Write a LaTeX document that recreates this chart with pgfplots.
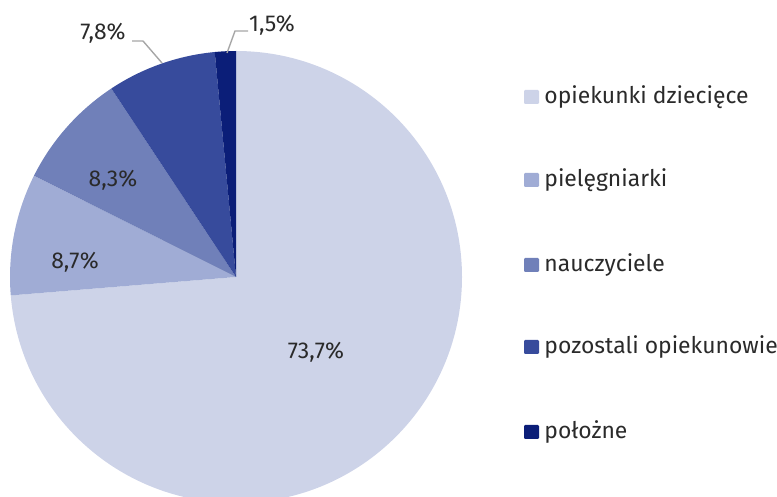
\documentclass[border=0pt]{standalone}
\usepackage{pgfplots}
\pgfplotsset{compat=1.18}
\usepackage{fontspec}
\setmainfont{Fira Sans}
\definecolor{cA}{HTML}{CDD3E8}
\definecolor{cB}{HTML}{A0ACD5}
\definecolor{cC}{HTML}{7080B9}
\definecolor{cD}{HTML}{374B9C}
\definecolor{cE}{HTML}{0B1E78}
\definecolor{txt}{HTML}{2A2A2A}
\definecolor{lead}{HTML}{A6A6A6}
\begin{document}
\begin{tikzpicture}
% shares (%)
\def\vA{73.7}\def\vB{8.7}\def\vC{8.3}\def\vD{7.8}\def\vE{1.5}
\pgfmathsetmacro\aA{90}
\pgfmathsetmacro\aB{\aA-3.6*\vA}
\pgfmathsetmacro\aC{\aB-3.6*\vB}
\pgfmathsetmacro\aD{\aC-3.6*\vC}
\pgfmathsetmacro\aE{\aD-3.6*\vD}
\pgfmathsetmacro\aF{\aE-3.6*\vE}
\begin{axis}[
  scale only axis, width=388.5bp, height=248.5bp,
  xmin=0, xmax=777, ymin=0, ymax=497,
  hide axis, clip=false,
  font=\fontsize{11.5}{13}\selectfont,
]
\addplot[draw=none] coordinates {(0,0) (777,497)};
\def\R{113bp}
\fill[cA] (axis cs:236,220) -- ++(\aA:\R) arc[start angle=\aA, end angle=\aB, radius=\R] -- cycle;
\fill[cB] (axis cs:236,220) -- ++(\aB:\R) arc[start angle=\aB, end angle=\aC, radius=\R] -- cycle;
\fill[cC] (axis cs:236,220) -- ++(\aC:\R) arc[start angle=\aC, end angle=\aD, radius=\R] -- cycle;
\fill[cD] (axis cs:236,220) -- ++(\aD:\R) arc[start angle=\aD, end angle=\aE, radius=\R] -- cycle;
\fill[cE] (axis cs:236,220) -- ++(\aE:\R) arc[start angle=\aE, end angle=\aF, radius=\R] -- cycle;
% labels
\node[txt] at (axis cs:316,145) {73,7\%};
\node[txt] at (axis cs:75,235) {8,7\%};
\node[txt] at (axis cs:113,317) {8,3\%};
\node[txt] at (axis cs:103,464) {7,8\%};
\node[txt] at (axis cs:272,472) {1,5\%};
\draw[lead, line width=0.7pt] (axis cs:132,456) -- (axis cs:143,456) -- (axis cs:162,434);
\draw[lead, line width=0.7pt] (axis cs:227,444) -- (axis cs:235,466) -- (axis cs:248,466);
% legend
\foreach \yy/\cc/\tt in {400/cA/opiekunki dziecięce, 317/cB/pielęgniarki, 232/cC/nauczyciele, 150/cD/pozostali opiekunowie, 65/cE/położne}{
  \edef\tmp{\noexpand\fill[\cc, rounded corners=0.6bp] (axis cs:524,\yy-7) rectangle (axis cs:539,\yy+7);
  \noexpand\node[anchor=west, inner sep=0pt, text=txt] at (axis cs:544,\yy) {\tt};}
  \tmp
}
\end{axis}
\pgfresetboundingbox
\useasboundingbox (current axis.south west) rectangle (current axis.north east);
\end{tikzpicture}
\end{document}
